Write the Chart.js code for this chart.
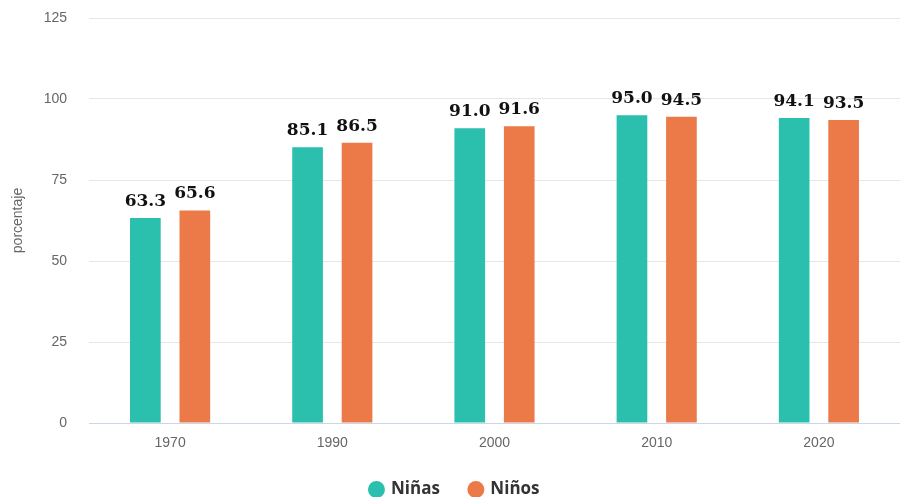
<!DOCTYPE html>
<html>
<head>
<meta charset="utf-8">
<script src="https://cdn.jsdelivr.net/npm/chart.js@4"></script>
<style>
  html, body { margin: 0; padding: 0; background: #fff; }
  #wrap { width: 900px; height: 497px; }
</style>
</head>
<body>
<div id="wrap"><canvas id="chart"></canvas></div>
<script>
// categories and series
const years = ['1970', '1990', '2000', '2010', '2020'];
const ninas = [63.3, 85.1, 91.0, 95.0, 94.1];
const ninos = [65.6, 86.5, 91.6, 94.5, 93.5];
const yTicks = [0, 25, 50, 75, 100, 125];

// value labels above each bar
const barLabels = {
    id: 'barLabels',
    afterDatasetsDraw(chart) {
        const ctx = chart.ctx;
        ctx.save();
        ctx.font = 'bold 17px "DejaVu Serif"';
        ctx.fillStyle = '#111';
        ctx.textAlign = 'center';
        ctx.textBaseline = 'bottom';
        chart.data.datasets.forEach((ds, i) => {
            chart.getDatasetMeta(i).data.forEach((bar, j) => {
                ctx.fillText(ds.data[j].toFixed(1), bar.x, bar.y - 8);
            });
        });
        ctx.restore();
    }
};

new Chart(document.getElementById('chart'), {
    type: 'bar',
    data: {
        labels: years,
        datasets: [
            { label: 'Niñas', data: ninas, backgroundColor: '#2bbfad' },
            { label: 'Niños', data: ninos, backgroundColor: '#ec7a48' }
        ]
    },
    options: {
        responsive: true,
        maintainAspectRatio: false,
        animation: false,
        categoryPercentage: 0.61,
        barPercentage: 0.62,
        layout: { padding: { top: 18, right: -10, left: 0, bottom: -11 } },
        plugins: {
            tooltip: { enabled: false },
            legend: {
                position: 'bottom',
                labels: {
                    usePointStyle: true,
                    pointStyle: 'circle',
                    boxWidth: 12,
                    boxHeight: 12,
                    padding: 30,
                    color: '#333',
                    font: { family: '"Open Sans", sans-serif', size: 17, weight: 'bold' }
                }
            }
        },
        scales: {
            x: {
                grid: { display: false, drawTicks: false },
                border: { color: '#ccd6eb' },
                afterFit: (scale) => { scale.height = 28; },
                ticks: {
                    color: '#666',
                    padding: 12,
                    font: { family: '"Liberation Sans", Arial, sans-serif', size: 14 }
                }
            },
            y: {
                min: 0,
                max: 125,
                afterBuildTicks: (scale) => { scale.ticks = yTicks.map(v => ({ value: v })); },
                afterFit: (scale) => {
                    scale.width = 89;
                    scale.paddingTop = 0;
                    scale.paddingBottom = 0;
                },
                grid: { color: '#e6e6e6', drawTicks: false },
                border: { display: false },
                title: {
                    display: true,
                    text: 'porcentaje',
                    color: '#666',
                    padding: { top: 10, bottom: 0 },
                    font: { family: '"Liberation Sans", Arial, sans-serif', size: 14 }
                },
                ticks: {
                    color: '#666',
                    padding: 22,
                    font: { family: '"Liberation Sans", Arial, sans-serif', size: 14 }
                }
            }
        }
    },
    plugins: [barLabels]
});
</script>
</body>
</html>
